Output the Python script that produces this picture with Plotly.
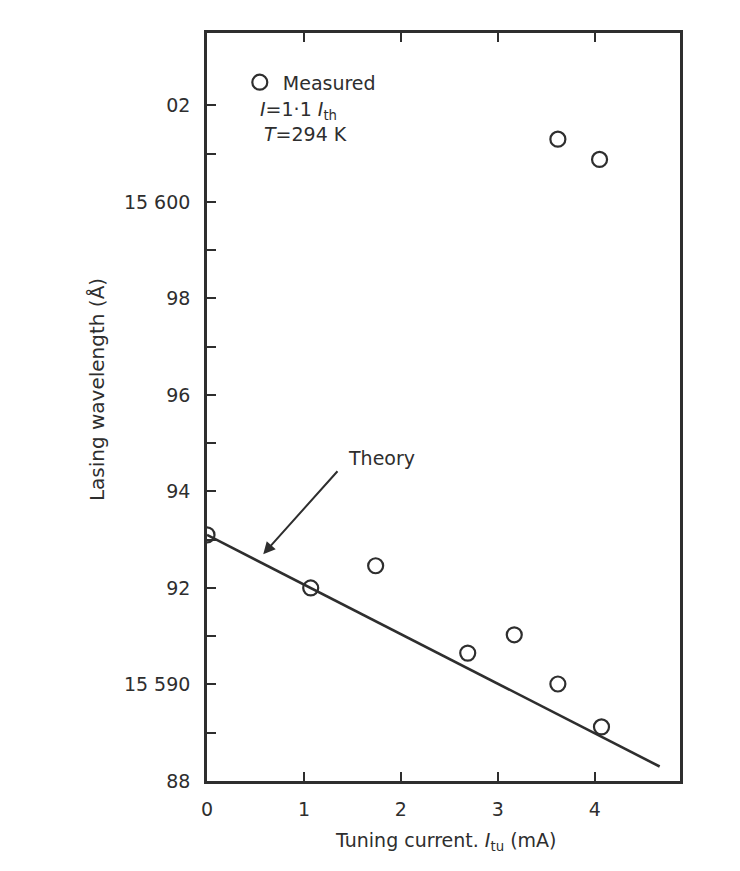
import plotly.graph_objects as go

# Measured points (tuning current mA, lasing wavelength Å)
meas_x = [0.0, 1.07, 1.74, 2.69, 3.17, 3.62, 4.07, 3.62, 4.05]
meas_y = [15593.1, 15592.0, 15592.46, 15590.65, 15591.03, 15590.01, 15589.12, 15601.3, 15600.88]

# Theory line
theory_x = [0.0, 1.07, 3.0, 4.67]
theory_y = [15593.1, 15592.0, 15590.0, 15588.3]

y_tickvals = list(range(15588, 15603))
y_ticklabels = {15588: "88", 15590: "15 590", 15592: "92", 15594: "94",
                15596: "96", 15598: "98", 15600: "15 600", 15602: "02"}
y_ticktext = [y_ticklabels.get(v, "") for v in y_tickvals]

x_tickvals = [0, 1, 2, 3, 4]
x_ticktext = ["0", "1", "2", "3", "4"]

INK = "#2e2e2e"
FONT = "DejaVu Sans, Liberation Sans, sans-serif"

fig = go.Figure()
fig.add_trace(go.Scatter(x=theory_x, y=theory_y, mode="lines", name="Theory",
                         line=dict(color=INK, width=2.6), showlegend=False))
fig.add_trace(go.Scatter(x=meas_x, y=meas_y, mode="markers", name="Measured",
                         marker=dict(symbol="circle-open", size=15, color=INK,
                                     line=dict(width=2.2, color=INK)),
                         showlegend=True))

fig.update_layout(
    width=740, height=871,
    margin=dict(l=207, r=60, t=33, b=90),
    paper_bgcolor="white", plot_bgcolor="white",
    font=dict(family=FONT, size=19, color=INK),
    showlegend=True,
    legend=dict(x=0.063, y=0.934, xanchor="left", yanchor="middle",
                bgcolor="rgba(0,0,0,0)", font=dict(size=19, color=INK),
                itemwidth=36, tracegroupgap=0),
    xaxis=dict(range=[0, 4.88], tickvals=x_tickvals, ticktext=x_ticktext,
               ticks="inside", ticklen=9, tickwidth=2.2, tickcolor=INK,
               showline=True, linecolor=INK, linewidth=2.6, mirror="ticks",
               showgrid=False, zeroline=False, tickfont=dict(size=19),
               ticklabelstandoff=9),
    yaxis=dict(range=[15588, 15603.5], tickvals=y_tickvals, ticktext=y_ticktext,
               ticks="inside", ticklen=9, tickwidth=2.2, tickcolor=INK,
               showline=True, linecolor=INK, linewidth=2.6, mirror=True,
               showgrid=False, zeroline=False, tickfont=dict(size=19),
               ticklabelstandoff=10),
    annotations=[
        dict(x=-0.234, y=0.523, xref="paper", yref="paper", showarrow=False,
             xanchor="center", yanchor="middle",
             text="Lasing wavelength (Å)", textangle=-90,
             font=dict(size=20, color=INK)),
        dict(x=0.506, y=-0.0815, xref="paper", yref="paper", showarrow=False,
             xanchor="center", yanchor="middle",
             text="Tuning current. <i>I</i><sub>tu</sub> (mA)",
             font=dict(size=19, color=INK)),
        dict(x=0.53, y=15601.9, xref="x", yref="y", xanchor="left", showarrow=False,
             text="<i>I</i>=1·1 <i>I</i><sub>th</sub>", font=dict(size=19, color=INK)),
        dict(x=0.57, y=15601.4, xref="x", yref="y", xanchor="left", showarrow=False,
             text="<i>T</i>=294 K", font=dict(size=19, color=INK)),
        dict(x=1.8, y=15594.7, xref="x", yref="y", showarrow=False,
             text="Theory", font=dict(size=19, color=INK)),
        dict(x=0.58, y=15592.7, xref="x", yref="y", axref="x", ayref="y",
             ax=1.36, ay=15594.45, text="", showarrow=True,
             arrowhead=2, arrowsize=1.2, arrowwidth=2, arrowcolor=INK),
    ],
)

fig.write_html("out.html")
